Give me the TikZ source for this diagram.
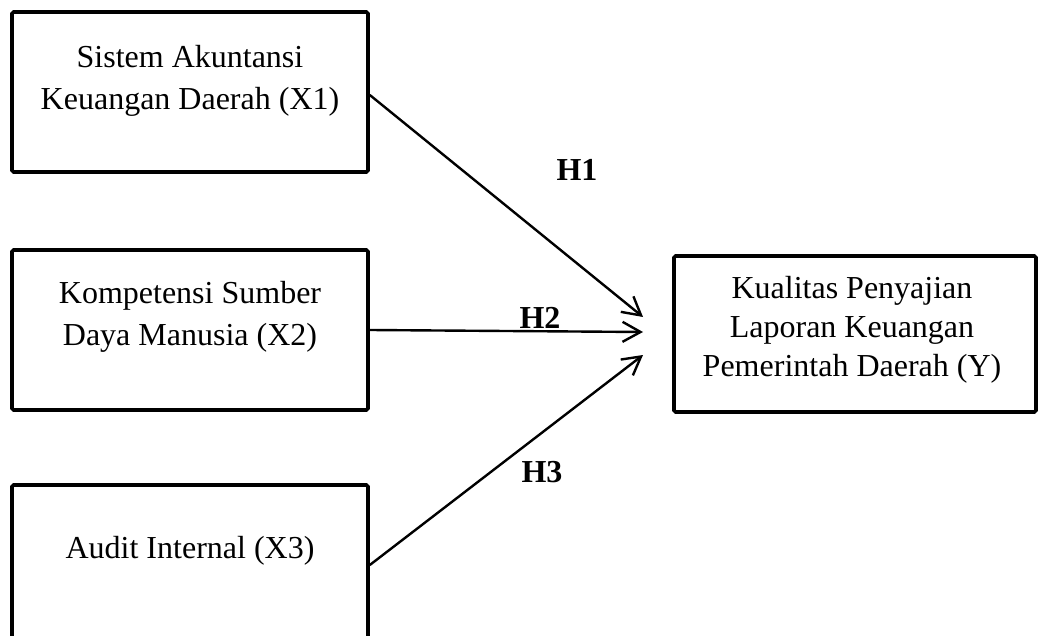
\documentclass[tikz,border=0pt]{standalone}
\usepackage{fontspec}
\setmainfont{Liberation Serif}
\usepackage{tikz}
\usetikzlibrary{arrows.meta,positioning}

\tikzset{
    varbox/.style={draw=black, line width=1.8pt, rounded corners=0.8pt, minimum width=178pt, minimum height=80pt, inner sep=0pt},
    vartext/.style={align=center, font=\fontsize{16}{21}\selectfont},
    hyp/.style={font=\fontsize{16}{19}\selectfont\bfseries, inner sep=0pt},
    path/.style={line width=1.2pt, -{Straight Barb[length=9pt, width=10pt, line width=1.2pt]}}
}

\begin{document}
\begin{tikzpicture}[x=0.5pt, y=-0.5pt]
        \useasboundingbox (0,0) rectangle (1038,636);
        \node [varbox] (x1) at (190, 92) {};      % X1
        \node [varbox] (x2) at (190, 330) {};     % X2
        \node [varbox] (x3) at (190, 565) {};     % X3
        \node [varbox, minimum width=181pt, minimum height=78pt] (y) at (855, 334) {};   % Y
        \node [vartext] (x1t) at (190, 81) {Sistem Akuntansi\\Keuangan Daerah (X1)};
        \node [vartext] (x2t) at (190, 317) {Kompetensi Sumber\\Daya Manusia (X2)};
        \node [vartext] (x3t) at (190, 551) {Audit Internal (X3)};
        \node [vartext, font=\fontsize{16}{19.5}\selectfont] (yt) at (852, 330) {Kualitas Penyajian\\Laporan Keuangan\\Pemerintah Daerah (Y)};

        \coordinate (t1) at (643, 317);
        \coordinate (t2) at (643, 332);
        \coordinate (t3) at (643, 355);
        \draw [path] (x1.east) ++(0,3) coordinate (s1) -- (t1);
        \draw [path] (x2.east) -- (t2);
        \draw [path] (x3.east) -- (t3);

        \node [hyp] (h1) at (577, 170) {H1};
        \node [hyp] (h2) at (540, 318) {H2};
        \node [hyp] (h3) at (542, 472) {H3};

    \end{tikzpicture}
\end{document}
